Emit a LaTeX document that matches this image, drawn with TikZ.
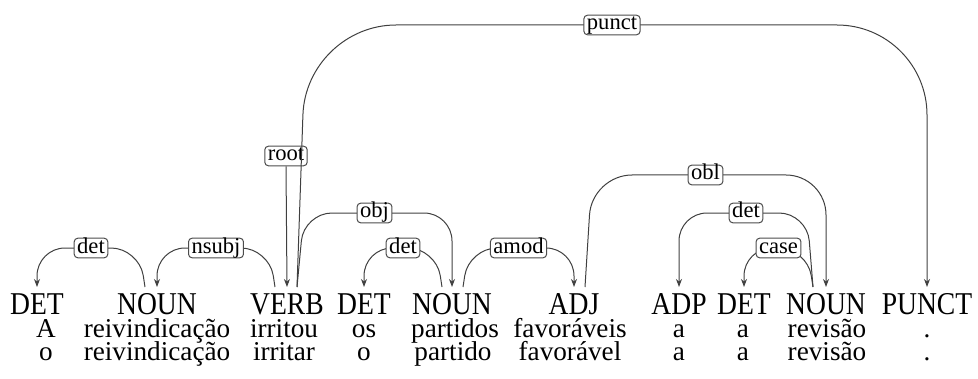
\documentclass[tikz,border=0pt]{standalone}
\usepackage{fontspec}
\setmainfont{Liberation Serif}
\usetikzlibrary{arrows.meta,calc}
\newcommand\dedge[8]{%
  \coordinate (#8s) at ($(#1 |- base)+(#2,0)$);
  \coordinate (#8e) at (#3 |- base);
  \path (0,#4) coordinate (#8y);
  \draw[arc,rounded corners=#6] (#8s) -- ($(#8s |- #8y)+(#5,0)$) -- (#8e |- #8y) -- (#8e);
  \node[lbl] (#8) at ($(#8s |- #8y)!0.5!(#8e |- #8y)$) {#7};
}
\newcommand\tallcaps[1]{\scalebox{1}[1.15]{#1}}
\begin{document}
\begin{tikzpicture}[x=0.5pt,y=-0.5pt,
  tag/.style={anchor=base,inner sep=0pt,text depth=0pt,font=\fontsize{13.8}{16}\selectfont},
  wrd/.style={anchor=base,inner sep=0pt,text depth=0pt,text height=7pt,font=\fontsize{13.6}{16}\selectfont},
  lbl/.style={draw=black!70,fill=white,rounded corners=1.8pt,inner xsep=1.5pt,inner ysep=0.6pt,
    font=\fontsize{11.3}{13}\selectfont,text height=0.68em,text depth=0.18em,line width=0.5pt},
  arc/.style={draw=black!75,line width=0.5pt,-{Stealth[length=4pt,width=3pt]}}
]
\useasboundingbox (0,0) rectangle (978,379);
\coordinate (base) at (0,287);
% tags
\node[tag] (t1) at (37,314) {\tallcaps{DET}};
\node[tag] (t2) at (157,314) {\tallcaps{NOUN}};
\node[tag] (t3) at (287,314) {\tallcaps{VERB}};
\node[tag] (t4) at (364,314) {\tallcaps{DET}};
\node[tag] (t5) at (452,314) {\tallcaps{NOUN}};
\node[tag] (t6) at (574,314) {\tallcaps{ADJ}};
\node[tag] (t7) at (679,314) {\tallcaps{ADP}};
\node[tag] (t8) at (744,314) {\tallcaps{DET}};
\node[tag] (t9) at (826,314) {\tallcaps{NOUN}};
\node[tag] (t10) at (927,314) {\tallcaps{PUNCT}};
% words
\node[wrd] (w1) at (46,337) {A};
\node[wrd] (w2) at (157,337) {reivindicação};
\node[wrd] (w3) at (284,337) {irritou};
\node[wrd] (w4) at (364,337) {os};
\node[wrd] (w5) at (455,337) {partidos};
\node[wrd] (w6) at (570,337) {favoráveis};
\node[wrd] (w7) at (679,337) {a};
\node[wrd] (w8) at (743,337) {a};
\node[wrd] (w9) at (827,337) {revisão};
\node[wrd] (w10) at (927,337) {.};
% lemmas
\node[wrd] (l1) at (46,360) {o};
\node[wrd] (l2) at (157,360) {reivindicação};
\node[wrd] (l3) at (284,360) {irritar};
\node[wrd] (l4) at (364,360) {o};
\node[wrd] (l5) at (453,360) {partido};
\node[wrd] (l6) at (570,360) {favorável};
\node[wrd] (l7) at (679,360) {a};
\node[wrd] (l8) at (743,360) {a};
\node[wrd] (l9) at (827,360) {revisão};
\node[wrd] (l10) at (927,360) {.};
% root
\node[lbl] (rootl) at (286,156) {root};
\draw[arc] (rootl.south) -- (t3 |- base);
% edges
\dedge{t2}{-12}{t1}{248}{-6}{14}{det}{e1}
\dedge{t3}{-12}{t2}{248}{-6}{14}{nsubj}{e2}
\dedge{t3}{10}{t5}{213}{7}{14}{obj}{e3}
\dedge{t5}{-10}{t4}{248}{-6}{14}{det}{e4}
\dedge{t5}{11}{t6}{248}{6}{14}{amod}{e5}
\dedge{t6}{11}{t9}{175}{7}{20}{obl}{e6}
\dedge{t9}{-13}{t7}{213}{-6}{14}{det}{e7}
\dedge{t9}{-13}{t8}{248}{-6}{14}{case}{e8}
\dedge{t3}{10}{t10}{25}{9}{45}{punct}{e9}
\end{tikzpicture}
\end{document}
